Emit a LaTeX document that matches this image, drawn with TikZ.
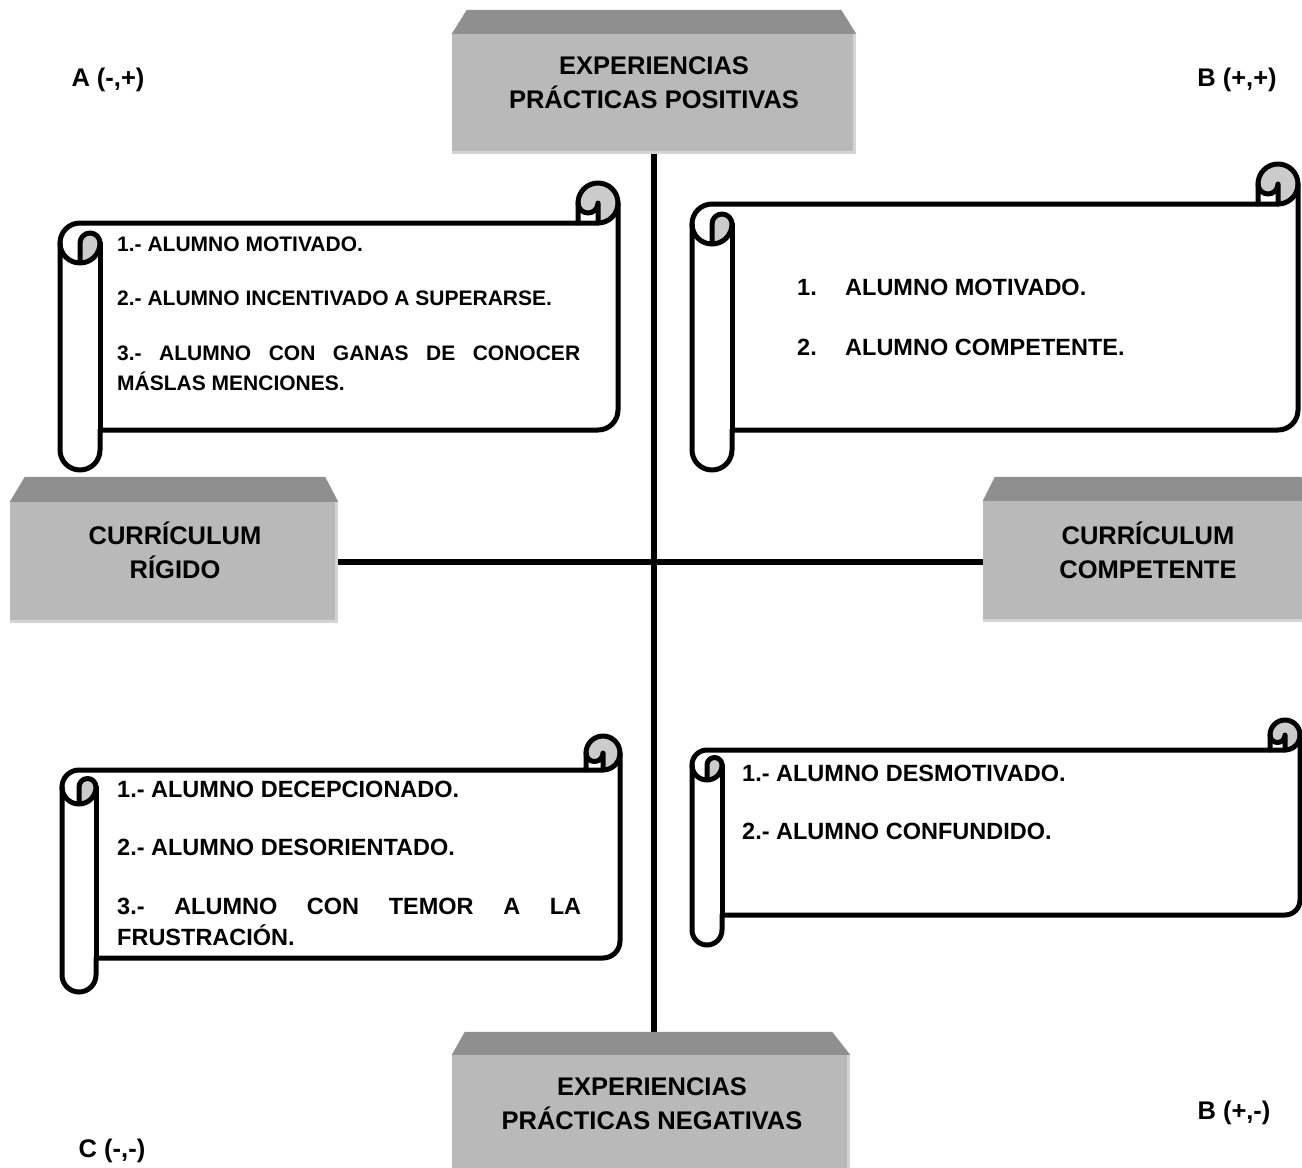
\documentclass[tikz,border=0pt]{standalone}
\usepackage{fontspec}
\setmainfont{Liberation Sans}
\definecolor{frontgray}{HTML}{B9B9B9}
\definecolor{topgray}{HTML}{8F8F8F}
\definecolor{edgegray}{HTML}{D4D4D4}
\definecolor{curlgray}{HTML}{CBCBCB}
\tikzset{
  frontface/.style={fill=frontgray, draw=none, inner sep=0pt},
  topface/.style={fill=topgray},
  edgestrip/.style={draw=edgegray, line width=3pt},
  axisline/.style={line width=6.5pt, black},
  scrollline/.style={line width=5pt, black, line join=round, line cap=round},
  headtext/.style={font=\fontsize{25.5}{34}\selectfont\bfseries, align=center, inner sep=0pt},
  cornertext/.style={font=\fontsize{25.5}{30}\selectfont\bfseries, inner sep=0pt},
  smalltext/.style={anchor=base west, inner sep=0pt, font=\fontsize{21}{25}\selectfont\bfseries},
  midtext/.style={anchor=base west, inner sep=0pt, font=\fontsize{23.5}{28}\selectfont\bfseries}
}
% scroll: left, right, top, bottom, curl size
\newcommand{\scrollshape}[5]{%
  \pgfmathsetmacro{\scL}{#1}\pgfmathsetmacro{\scR}{#2}%
  \pgfmathsetmacro{\scT}{#3}\pgfmathsetmacro{\scB}{#4}%
  \pgfmathsetmacro{\scC}{#5}\pgfmathsetmacro{\scH}{#5/2}\pgfmathsetmacro{\scQ}{#5/4}%
  \pgfmathsetmacro{\xa}{\scR-\scC}\pgfmathsetmacro{\xb}{\scR-\scH}%
  \pgfmathsetmacro{\xc}{\scL+\scH}\pgfmathsetmacro{\xd}{\scL+\scC}%
  \pgfmathsetmacro{\ya}{\scT+\scH}\pgfmathsetmacro{\yb}{\scT+\scC}%
  \pgfmathsetmacro{\yc}{\scT+\scC+\scH}\pgfmathsetmacro{\yd}{\scT+2*\scC}%
  \pgfmathsetmacro{\ye}{\scB-\scC}\pgfmathsetmacro{\yf}{\scB-\scH}%
  \pgfmathsetmacro{\yg}{\scB-\scC-\scH}%
  \fill[white] (\scR,\ya) arc[start angle=0,delta angle=90,radius=\scH]
    -- (\xb,\ya) arc[start angle=0,delta angle=180,radius=\scQ]
    -- (\xa,\yb) -- (\xc,\yb) arc[start angle=270,delta angle=-90,radius=\scH]
    -- (\scL,\yf) arc[start angle=180,delta angle=-180,radius=\scH]
    -- (\xd,\ye) -- (\xb,\ye) arc[start angle=90,delta angle=-90,radius=\scH] -- cycle;
  \fill[curlgray] (\xc,\yd) arc[start angle=90,delta angle=-90,radius=\scH]
    arc[start angle=0,delta angle=-180,radius=\scQ] -- cycle;
  \fill[curlgray] (\xb,\yb) arc[start angle=90,delta angle=-270,radius=\scH]
    arc[start angle=180,delta angle=-180,radius=\scQ] -- cycle;
  \draw[scrollline] (\scL,\yc) arc[start angle=180,delta angle=90,radius=\scH]
    -- (\xa,\yb) -- (\xa,\ya) arc[start angle=180,delta angle=180,radius=\scH]
    -- (\scR,\yg) arc[start angle=0,delta angle=90,radius=\scH]
    -- (\xd,\ye) -- (\xd,\yf) arc[start angle=0,delta angle=180,radius=\scH] -- cycle;
  \draw[scrollline] (\xa,\yb) -- (\xb,\yb) arc[start angle=90,delta angle=-90,radius=\scH];
  \draw[scrollline] (\xb,\yb) -- (\xb,\ya) arc[start angle=0,delta angle=180,radius=\scQ];
  \draw[scrollline] (\xc,\yd) -- (\xc,\yc) arc[start angle=180,delta angle=180,radius=\scQ]
    arc[start angle=0,delta angle=180,radius=\scH];
  \draw[scrollline] (\xd,\yc) -- (\xd,\ye);
}
\begin{document}
\begin{tikzpicture}[x=1pt,y=-1pt]
\useasboundingbox (0,0) rectangle (1302,1168);
\fill[white] (0,0) rectangle (1302,1168);

% front faces of the boxes
\node[frontface, minimum width=404pt, minimum height=119pt] (pos) at (654,93.5) {};
\node[frontface, minimum width=398pt, minimum height=124pt] (neg) at (651,1117) {};
\node[frontface, minimum width=328pt, minimum height=120pt] (rig) at (174,562) {};
\node[frontface, minimum width=330pt, minimum height=120pt] (comp) at (1148,561) {};

% axes
\draw[axisline] (pos.south) -- (pos.south |- neg.north);
\draw[axisline] (rig.east) -- (rig.east -| comp.west);

% top faces
\fill[topface] (pos.north west) -- ++(15,-24) -- ([xshift=-15pt,yshift=24pt]pos.north east) -- (pos.north east) -- cycle;
\fill[topface] (neg.north west) -- ++(13,-23) -- ([xshift=-18pt,yshift=23pt]neg.north east) -- (neg.north east) -- cycle;
\fill[topface] (rig.north west) -- ++(15,-25) -- ([xshift=-13pt,yshift=25pt]rig.north east) -- (rig.north east) -- cycle;
\fill[topface] (comp.north west) -- ++(12,-24) -- ([xshift=-12pt,yshift=24pt]comp.north east) -- (comp.north east) -- cycle;
% light edges
\draw[edgestrip] ([xshift=-1.5pt]pos.north east) -- ([xshift=-1.5pt,yshift=1pt]pos.south east) -- ([yshift=1pt]pos.south west);
\draw[edgestrip] ([xshift=-1.5pt]neg.north east) -- ([xshift=-1.5pt]neg.south east);
\draw[edgestrip] ([xshift=-1.5pt]rig.north east) -- ([xshift=-1.5pt,yshift=1pt]rig.south east) -- ([yshift=1pt]rig.south west);
\draw[edgestrip] ([yshift=1pt]comp.south east) -- ([yshift=1pt]comp.south west);

% box texts
\node[headtext] (pos-t) at (654,83) {EXPERIENCIAS\\PRÁCTICAS POSITIVAS};
\node[headtext] (neg-t) at (652,1104) {EXPERIENCIAS\\PRÁCTICAS NEGATIVAS};
\node[headtext] (rig-t) at (175,550) {CURRÍCULUM\\RÍGIDO};
\node[headtext] (comp-t) at (1148,550) {CURRÍCULUM\\COMPETENTE};

% corner labels
\node[cornertext] (qa) at (108,80) {A (-,+)};
\node[cornertext] (qb) at (1237,80) {B (+,+)};
\node[cornertext] (qc) at (112,1151) {C (-,-)};
\node[cornertext] (qd) at (1234,1113) {B (+,-)};

% scrolls
\scrollshape{60}{618}{183}{470}{40}
\scrollshape{692}{1298}{164}{470}{40}
\scrollshape{62}{620}{736}{992}{34}
\scrollshape{692}{1300}{720}{945}{30}

% scroll texts
\node[smalltext] (tl1) at (117,251) {1.- ALUMNO MOTIVADO.};
\node[smalltext] (tl2) at (117,305) {2.- ALUMNO INCENTIVADO A SUPERARSE.};
\node[smalltext] (tl3) at (117,360) {\makebox[463pt][s]{3.- ALUMNO CON GANAS DE CONOCER}};
\node[smalltext] (tl4) at (117,390) {MÁSLAS MENCIONES.};

\node[midtext] (tr1) at (797,295.5) {\makebox[48pt][l]{1.}ALUMNO MOTIVADO.};
\node[midtext] (tr2) at (797,355.5) {\makebox[48pt][l]{2.}ALUMNO COMPETENTE.};

\node[midtext] (bl1) at (117,797.5) {1.- ALUMNO DECEPCIONADO.};
\node[midtext] (bl2) at (117,855.5) {2.- ALUMNO DESORIENTADO.};
\node[midtext] (bl3) at (117,914.5) {\makebox[464pt][s]{3.- ALUMNO CON TEMOR A LA}};
\node[midtext] (bl4) at (117,945.5) {FRUSTRACIÓN.};

\node[midtext] (br1) at (742,781.5) {1.- ALUMNO DESMOTIVADO.};
\node[midtext] (br2) at (742,839.5) {2.- ALUMNO CONFUNDIDO.};
\end{tikzpicture}
\end{document}
